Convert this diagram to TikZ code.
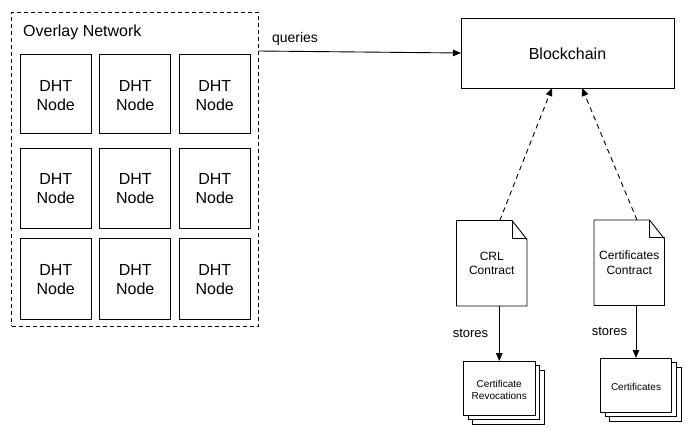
\documentclass[tikz,border=0pt]{standalone}
\usepackage{fontspec}
\setmainfont{Liberation Sans}
\usetikzlibrary{arrows.meta, positioning, shadows}
\tikzset{
    textdrop/.style={execute at begin node={\rule{0pt}{#1}}},
    dhtnode/.style={
        rectangle, draw=black, line width=0.9pt, outer sep=0pt,
        minimum width=71pt, align=center, textdrop=31.6pt,
        font=\fontsize{16}{19}\selectfont
    },
    overlaybox/.style={
        rectangle, draw=black, line width=0.9pt, dashed, outer sep=0pt,
        dash pattern=on 4pt off 3pt,
        minimum width=247pt, minimum height=313.5pt
    },
    chainbox/.style={
        rectangle, draw=black, line width=0.9pt, outer sep=0pt,
        minimum width=213pt, minimum height=70pt, textdrop=13.7pt,
        font=\fontsize{16}{19}\selectfont
    },
    contract/.style={
        rectangle, outer sep=0pt, inner sep=0pt,
        minimum width=70.5pt, minimum height=85.5pt, align=center,
        font=\fontsize{12}{14.5}\selectfont
    },
    stack/.style={
        rectangle, draw=black, fill=white, line width=0.9pt, outer sep=0pt,
        minimum width=71.5pt, minimum height=54pt, align=center,
        font=\fontsize{10}{12.5}\selectfont,
        double copy shadow={shadow xshift=4.7pt, shadow yshift=-4.5pt, draw=black, fill=white, opacity=1}
    },
    wire/.style={draw=black, line width=0.9pt, -{Stealth[inset=0pt, length=8pt, width=6.5pt]}},
    dashwire/.style={wire, dash pattern=on 5pt off 4pt},
    caption/.style={inner sep=0pt, font=\fontsize{14}{16}\selectfont},
    storelabel/.style={inner sep=0pt, font=\fontsize{13}{15}\selectfont}
}
% page corner of a contract, fold at top right
\newcommand{\contractoutline}[1]{
    \draw[line width=0.9pt, line join=round]
        (#1.south west) -- (#1.north west) -- ([xshift=-15pt]#1.north east)
        -- ([yshift=-19pt]#1.north east) -- (#1.south east) -- cycle;
    \draw[line width=0.9pt, line join=round]
        ([xshift=-15pt]#1.north east) -- ([xshift=-15pt, yshift=-17.5pt]#1.north east)
        -- ([yshift=-17.5pt]#1.north east);
}

\begin{document}
\begin{tikzpicture}[x=1pt, y=-1pt]
\useasboundingbox (0,0) rectangle (693,436);

% Overlay network
\node[overlaybox] (overlay) at (135,169.25) {};
\node[caption, font=\fontsize{16}{19}\selectfont, anchor=west] (overlaytitle) at (23,32) {Overlay Network};

% First row
\node[dhtnode, textdrop=33.5pt, minimum height=79pt] (d11) at (55.75,93.5) {DHT\\Node};
\node[dhtnode, textdrop=33.5pt, minimum height=79pt, right=8.5pt of d11] (d12) {DHT\\Node};
\node[dhtnode, textdrop=33.5pt, minimum height=79pt, right=8.5pt of d12] (d13) {DHT\\Node};

% Second row
\node[dhtnode, minimum height=80pt, below=15pt of d11] (d21) {DHT\\Node};
\node[dhtnode, minimum height=80pt, right=8.5pt of d21] (d22) {DHT\\Node};
\node[dhtnode, minimum height=80pt, right=8.5pt of d22] (d23) {DHT\\Node};

% Third row
\node[dhtnode, minimum height=81pt, below=10.5pt of d21] (d31) {DHT\\Node};
\node[dhtnode, minimum height=81pt, right=8.5pt of d31] (d32) {DHT\\Node};
\node[dhtnode, minimum height=81pt, right=8.5pt of d32] (d33) {DHT\\Node};

% Blockchain
\node[chainbox] (chain) at (567.5,53) {Blockchain};
\draw[wire] ([yshift=-38.5pt]overlay.north east) -- (chain.west);
\node[caption] (queries) at (295,38.5) {queries};

% Contracts
\node[contract] (crl) at (491.75,263.25) {CRL\\Contract};
\node[contract] (certs) at (629.25,262.75) {Certificates\\Contract};
\contractoutline{crl}
\contractoutline{certs}

\draw[dashwire] ([xshift=8pt]crl.north) -- ([xshift=-15.5pt]chain.south);
\draw[dashwire] ([xshift=7.75pt]certs.north) -- ([xshift=14.5pt]chain.south);

% Stores
\node[stack, textdrop=23.7pt] (revoked) at (499.25,388) {Certificate\\Revocations};
\node[stack, textdrop=11.2pt] (issued) at (636,385) {Certificates};

\draw[wire] (revoked.north |- crl.south) -- (revoked.north);
\draw[wire] (issued.north |- certs.south) -- (issued.north);

\node[storelabel] (store1) at (470.5,333) {stores};
\node[storelabel] (store2) at (609.5,331) {stores};

\end{tikzpicture}
\end{document}
